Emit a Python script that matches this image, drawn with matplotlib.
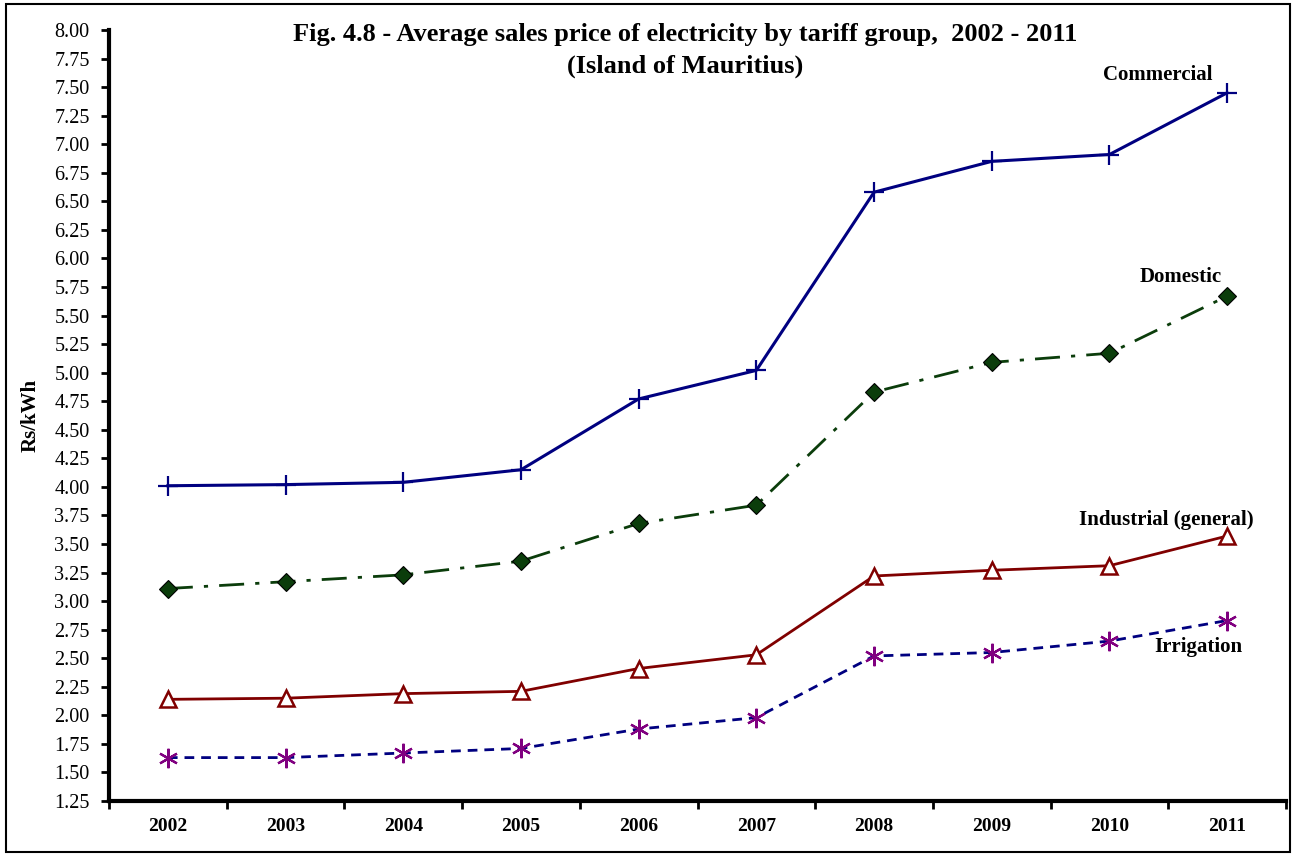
import matplotlib
matplotlib.use("Agg")
import matplotlib.pyplot as plt
from matplotlib.patches import Rectangle
import numpy as np

years = ["2002", "2003", "2004", "2005", "2006", "2007", "2008", "2009", "2010", "2011"]
commercial = [4.01, 4.02, 4.04, 4.15, 4.77, 5.02, 6.58, 6.85, 6.91, 7.45]
domestic = [3.11, 3.17, 3.23, 3.35, 3.68, 3.84, 4.83, 5.09, 5.17, 5.67]
industrial = [2.14, 2.15, 2.19, 2.21, 2.41, 2.53, 3.22, 3.27, 3.31, 3.57]
irrigation = [1.63, 1.63, 1.67, 1.71, 1.88, 1.98, 2.52, 2.55, 2.65, 2.83]
y_ticks = [1.25 + 0.25 * i for i in range(28)]

plt.rcParams['font.family'] = ['Liberation Serif', 'DejaVu Serif']

fig = plt.figure(figsize=(12.94, 8.56), dpi=100)
ax = fig.add_axes([109/1294, 55/856, 1177/1294, 771/856])
x = np.arange(len(years))

ax.plot(x, commercial, color='#000080', lw=2.2, marker='+', ms=14, mew=1.6,
        mec='#000080', zorder=3)
ax.plot(x, domestic, color='#0B3D0B', lw=2.0, ls=(0, (9, 4, 1.5, 4)), marker='D', ms=9,
        mfc='#0B3D0B', mec='black', mew=0.8, zorder=3)
ax.plot(x, industrial, color='#800000', lw=2.0, marker='^', ms=12, mfc='white',
        mec='#800000', mew=1.8, zorder=3)
ax.plot(x, irrigation, color='#000080', lw=2.0, ls=(0, (3.5, 2.5)), marker=(6, 2, 0), ms=14,
        mec='#800080', mew=1.6, zorder=3)

ax.set_xlim(-0.5, len(years) - 0.5)
ax.set_ylim(1.25, 8.0)
ax.set_yticks(y_ticks)
ax.set_yticklabels([f"{v:.2f}" for v in y_ticks], fontsize=14.5)
ax.set_xticks(x)
ax.set_xticklabels(years, fontsize=14, fontweight='bold')
ax.set_xticks(np.arange(-0.5, len(years)), minor=True)
ax.tick_params(axis='x', which='major', length=0, pad=12)
ax.tick_params(axis='x', which='minor', length=6, width=2, direction='out')
ax.tick_params(axis='y', length=6, width=2, direction='out', pad=8)

for s in ['top', 'right']:
    ax.spines[s].set_visible(False)
for s in ['left', 'bottom']:
    ax.spines[s].set_linewidth(3)

ax.set_ylabel("Rs/kWh", fontsize=15, fontweight='bold', labelpad=10)

fig.text(685/1294, 1 - 35/856, "Fig. 4.8 - Average sales price of electricity by tariff group,  2002 - 2011",
         ha='center', va='center', fontsize=19, fontweight='bold')
fig.text(685/1294, 1 - 66/856, "(Island of Mauritius)", ha='center', va='center',
         fontsize=19, fontweight='bold')

last = len(years) - 1
ax.annotate("Commercial", (last, commercial[-1]), xytext=(-69, 18), textcoords='offset pixels',
            ha='center', va='center', fontsize=15, fontweight='bold')
ax.annotate("Domestic", (last, domestic[-1]), xytext=(-46, 19), textcoords='offset pixels',
            ha='center', va='center', fontsize=15, fontweight='bold')
ax.annotate("Industrial (general)", (last, industrial[-1]), xytext=(-61, 16), textcoords='offset pixels',
            ha='center', va='center', fontsize=15, fontweight='bold')
ax.annotate("Irrigation", (last, irrigation[-1]), xytext=(-29, -26), textcoords='offset pixels',
            ha='center', va='center', fontsize=15, fontweight='bold')

fig.patches.append(Rectangle((6/1294, 4/856), 1284/1294, 848/856, transform=fig.transFigure,
                             fill=False, edgecolor='black', lw=1.5))

fig.savefig("out.png", dpi=100)
